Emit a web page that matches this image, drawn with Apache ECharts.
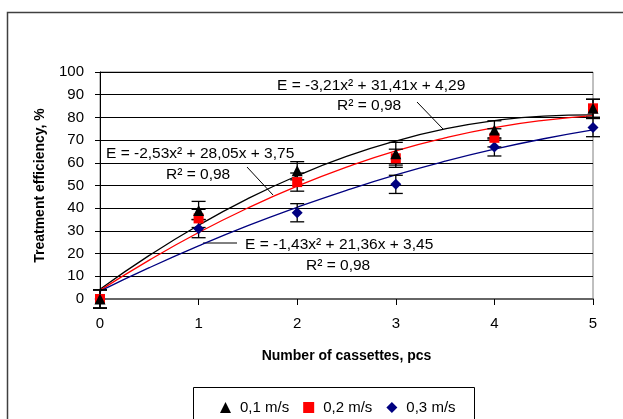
<!DOCTYPE html>
<html>
<head>
<meta charset="utf-8">
<script src="https://cdn.jsdelivr.net/npm/echarts@6/dist/echarts.min.js"></script>
<style>
  html, body { margin: 0; padding: 0; background: #fff; }
  #chart { width: 623px; height: 419px; }
</style>
</head>
<body>
<div id="chart"></div>
<script>
// measured points (x = number of cassettes)
var cassettes = [0, 1, 2, 3, 4, 5]
var speed01 = [0, 39, 56.5, 64, 74.5, 84]
var speed02 = [0, 35.5, 51.5, 62, 71, 84]
var speed03 = [0, 31, 38, 50.5, 67, 75.5]
var err01 = [4, 4, 4, 5, 4, 4]
var err02 = [4, 4, 4, 4, 4, 4]
var err03 = [4, 4, 4, 4, 4, 4]

// trendline values
var trendX = [0, 0.5, 1, 1.5, 2, 2.5, 3, 3.5, 4, 4.5, 5]
var trend01 = [4.3, 19.2, 32.5, 44.2, 54.3, 62.8, 69.6, 74.9, 78.6, 80.6, 81.1]
var trend02 = [3.8, 17.1, 29.3, 40.1, 49.7, 58.1, 65.3, 71.0, 75.5, 78.7, 80.8]
var trend03 = [3.5, 13.8, 23.4, 32.3, 40.4, 47.9, 54.7, 60.7, 66.0, 70.6, 74.5]

var seriesNames = ['0,1 m/s', '0,2 m/s', '0,3 m/s']
var yTicks = [0, 10, 20, 30, 40, 50, 60, 70, 80, 90, 100]

var font = 'Liberation Sans, Arial, sans-serif'

function pairs(xs, ys) {
  return xs.map(function(x, i) { return [x, ys[i]] })
}
function errData(vals, errs) {
  return cassettes.map(function(x, i) { return [x, vals[i] - errs[i], vals[i] + errs[i]] })
}

function errorBar(params, api) {
  var top = api.coord([api.value(0), api.value(2)])
  var bot = api.coord([api.value(0), api.value(1)])
  var w = 7
  var st = { stroke: '#000', lineWidth: 1.3 }
  return {
    type: 'group',
    children: [
      { type: 'line', shape: { x1: top[0], y1: top[1], x2: bot[0], y2: bot[1] }, style: st },
      { type: 'line', shape: { x1: top[0] - w, y1: top[1], x2: top[0] + w, y2: top[1] }, style: st },
      { type: 'line', shape: { x1: bot[0] - w, y1: bot[1], x2: bot[0] + w, y2: bot[1] }, style: st }
    ]
  }
}

function trendLine(data, color) {
  return {
    type: 'line',
    data: pairs(trendX, data),
    smooth: true,
    showSymbol: false,
    silent: true,
    lineStyle: { color: color, width: 1.3 },
    z: 3
  }
}

function eqText(txt, x, y) {
  return {
    type: 'text',
    x: x,
    y: y,
    style: { text: txt, font: '15.5px ' + font, fill: '#000', verticalAlign: 'middle' }
  }
}
function leader(x1, y1, x2, y2) {
  return {
    type: 'line',
    shape: { x1: x1, y1: y1, x2: x2, y2: y2 },
    style: { stroke: '#000', lineWidth: 1 }
  }
}

var chart = echarts.init(document.getElementById('chart'))

var option = {
  backgroundColor: '#fff',
  animation: false,
  grid: { left: 100, right: 30, top: 72, bottom: 120, show: true, borderColor: '#808080', borderWidth: 1 },
  xAxis: {
    type: 'value',
    min: 0,
    max: 5,
    interval: 1,
    name: 'Number of cassettes, pcs',
    nameLocation: 'middle',
    nameGap: 50,
    nameTextStyle: { fontFamily: font, fontSize: 14, fontWeight: 'bold', color: '#000' },
    axisLine: { show: true, lineStyle: { color: '#666', width: 2 } },
    axisTick: { show: true, length: 6, lineStyle: { color: '#000' } },
    axisLabel: { fontFamily: font, fontSize: 15, color: '#000', margin: 17 },
    splitLine: { show: false }
  },
  yAxis: {
    type: 'value',
    min: 0,
    max: 100,
    interval: 10,
    name: 'Treatment efficiency, %',
    nameLocation: 'middle',
    nameGap: 53,
    nameTextStyle: { fontFamily: font, fontSize: 14, fontWeight: 'bold', color: '#000' },
    axisLine: { show: true, onZero: false, lineStyle: { color: '#000', width: 1 } },
    axisTick: { show: true, length: 5, lineStyle: { color: '#000' } },
    axisLabel: {
      fontFamily: font, fontSize: 15, color: '#000', margin: 16,
      formatter: function(v) { return yTicks.indexOf(v) >= 0 ? String(v) : '' }
    },
    splitLine: { show: true, lineStyle: { color: '#000', width: 1 } }
  },
  legend: {
    data: seriesNames,
    left: 215,
    top: 395,
    itemWidth: 11,
    itemHeight: 11,
    itemGap: 14,
    textStyle: { fontFamily: font, fontSize: 15, color: '#000', padding: [0, 0, 0, 4] }
  },
  graphic: [
    { type: 'rect', shape: { x: 7.5, y: 12.5, width: 700, height: 500 }, style: { fill: 'none', stroke: '#404040', lineWidth: 1.5 }, silent: true },
    { type: 'rect', shape: { x: 193.5, y: 387.5, width: 281, height: 60 }, style: { fill: 'none', stroke: '#000', lineWidth: 1 }, silent: true },
    eqText('E = -3,21x² + 31,41x + 4,29', 277, 86),
    eqText('R² = 0,98', 337, 106),
    leader(417, 102, 443, 129),
    eqText('E = -2,53x² + 28,05x + 3,75', 106, 154),
    eqText('R² = 0,98', 166, 175),
    leader(247, 167, 273, 195),
    eqText('E = -1,43x² + 21,36x + 3,45', 245, 245),
    eqText('R² = 0,98', 306, 266),
    leader(203, 243, 237, 243)
  ],
  series: [
    trendLine(trend01, '#000000'),
    trendLine(trend02, '#ff0000'),
    trendLine(trend03, '#000080'),
    { type: 'custom', renderItem: errorBar, data: errData(speed01, err01), silent: true, z: 4 },
    { type: 'custom', renderItem: errorBar, data: errData(speed02, err02), silent: true, z: 4 },
    { type: 'custom', renderItem: errorBar, data: errData(speed03, err03), silent: true, z: 4 },
    {
      name: seriesNames[2], type: 'scatter', data: pairs(cassettes, speed03),
      symbol: 'diamond', symbolSize: 11, itemStyle: { color: '#000080', opacity: 1 }, z: 5
    },
    {
      name: seriesNames[1], type: 'scatter', data: pairs(cassettes, speed02),
      symbol: 'rect', symbolSize: 10, itemStyle: { color: '#ff0000', opacity: 1 }, z: 6
    },
    {
      name: seriesNames[0], type: 'scatter', data: pairs(cassettes, speed01),
      symbol: 'triangle', symbolSize: 11, itemStyle: { color: '#000000', opacity: 1 }, z: 7
    }
  ]
}

chart.setOption(option)
</script>
</body>
</html>
